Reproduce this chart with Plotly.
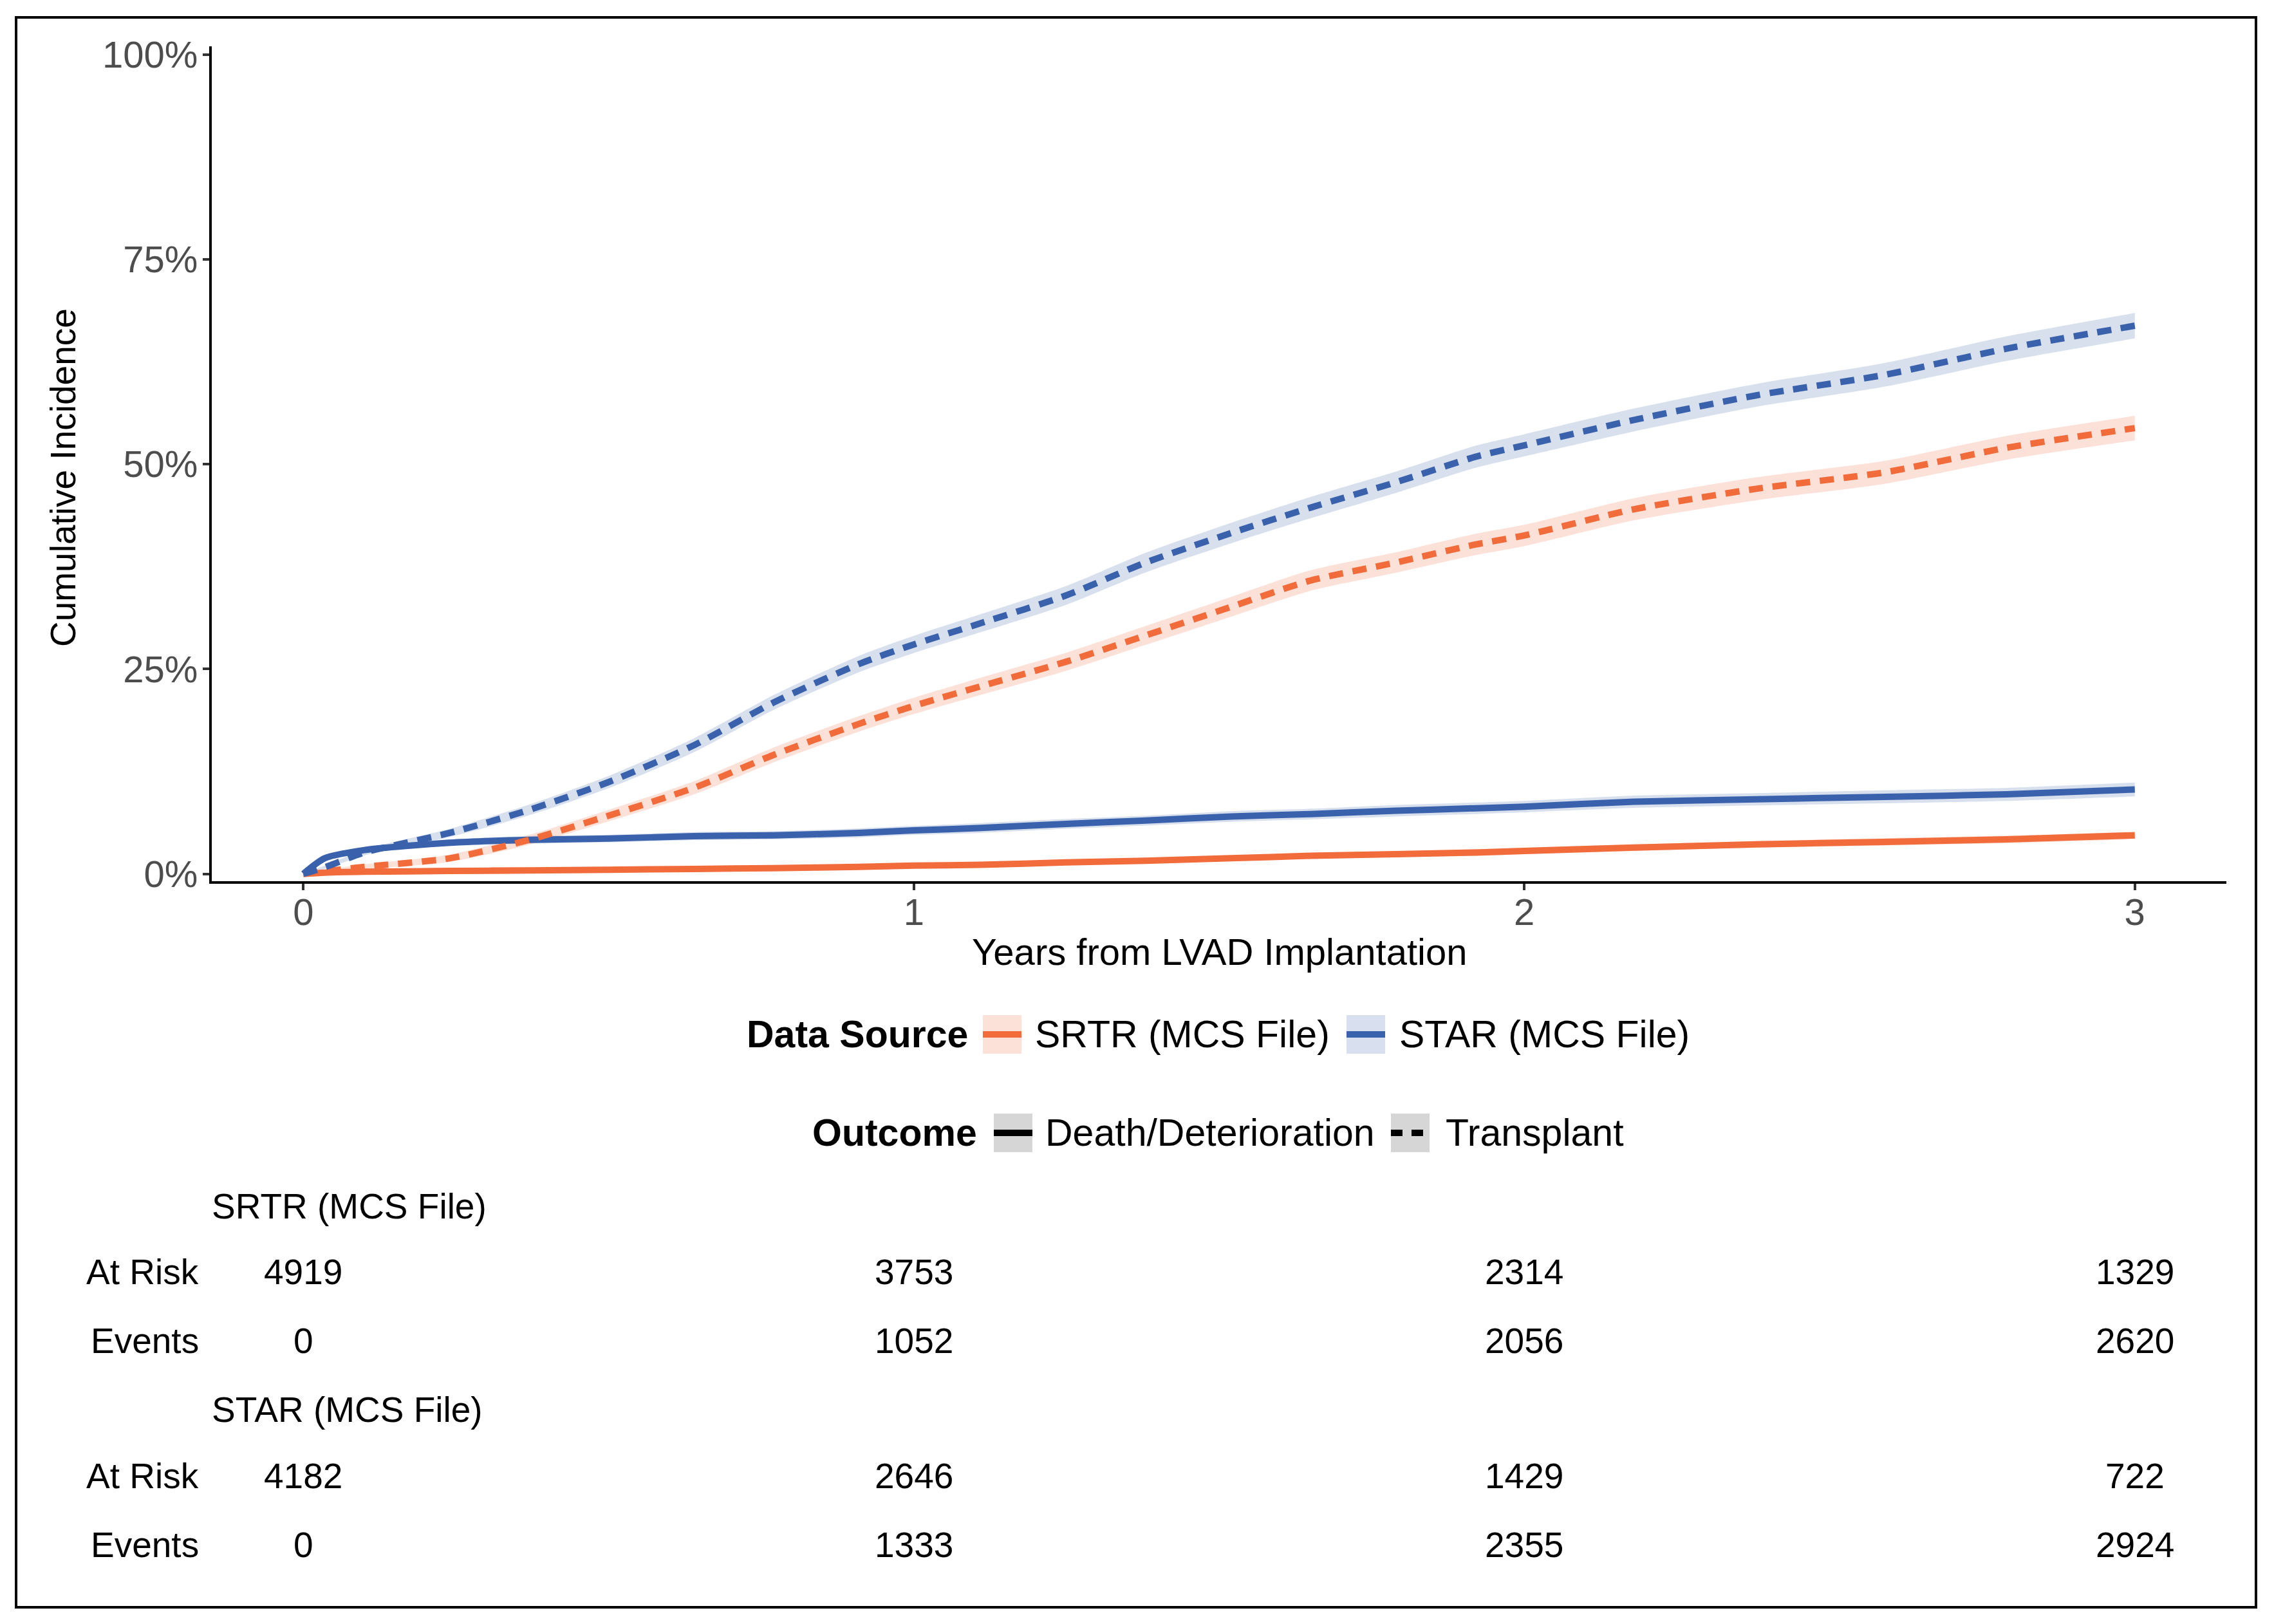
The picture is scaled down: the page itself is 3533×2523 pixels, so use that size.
import plotly.graph_objects as go

# ---------------- data ----------------
years = [0, 0.035, 0.10, 0.24, 0.37, 0.50, 0.64, 0.77, 0.91, 1.00, 1.11, 1.25,
         1.38, 1.52, 1.65, 1.79, 1.92, 2.00, 2.18, 2.38, 2.59, 2.79, 3.00]

star_transplant = [0, 0.8, 2.6, 5.0, 7.8, 11.2, 15.7, 20.9, 25.6, 28.0, 30.6, 34.0,
                   38.0, 41.6, 44.7, 47.8, 50.9, 52.3, 55.4, 58.4, 60.9, 64.1, 66.9]
srtr_transplant = [0, 0.3, 0.86, 1.9, 4.15, 7.1, 10.5, 14.5, 18.3, 20.5, 22.9, 25.9,
                   29.1, 32.6, 35.8, 38.0, 40.2, 41.3, 44.5, 47.0, 49.0, 52.0, 54.4]
star_death = [0, 1.9, 2.9, 3.8, 4.15, 4.3, 4.6, 4.7, 5.0, 5.3, 5.6, 6.1,
              6.5, 7.0, 7.3, 7.7, 8.0, 8.2, 8.8, 9.1, 9.4, 9.7, 10.3]
srtr_death = [0, 0.15, 0.25, 0.35, 0.42, 0.5, 0.6, 0.7, 0.85, 1.0, 1.1, 1.4,
              1.6, 1.9, 2.2, 2.4, 2.6, 2.8, 3.2, 3.6, 3.9, 4.2, 4.7]

# half-widths of the confidence bands (percentage points)
star_transplant_ci = [0, 0.2, 0.35, 0.5, 0.65, 0.75, 0.85, 0.9, 1.0, 1.05, 1.1, 1.15,
                      1.2, 1.25, 1.3, 1.3, 1.35, 1.35, 1.4, 1.4, 1.45, 1.5, 1.55]
srtr_transplant_ci = [0, 0.15, 0.3, 0.45, 0.6, 0.7, 0.8, 0.9, 0.95, 1.0, 1.05, 1.1,
                      1.15, 1.2, 1.25, 1.25, 1.3, 1.3, 1.35, 1.4, 1.4, 1.45, 1.5]
star_death_ci = [0, 0.3, 0.35, 0.4, 0.45, 0.45, 0.5, 0.5, 0.55, 0.55, 0.6, 0.6,
                 0.6, 0.65, 0.65, 0.7, 0.7, 0.7, 0.75, 0.75, 0.8, 0.8, 0.85]
srtr_death_ci = [0, 0.1, 0.15, 0.15, 0.2, 0.2, 0.2, 0.25, 0.25, 0.25, 0.3, 0.3,
                 0.3, 0.35, 0.35, 0.35, 0.4, 0.4, 0.4, 0.4, 0.45, 0.45, 0.45]

year_ticks = [0, 1, 2, 3]
pct_ticks = [0, 25, 50, 75, 100]
pct_labels = ["0%", "25%", "50%", "75%", "100%"]

sources = ["SRTR (MCS File)", "STAR (MCS File)"]
outcomes = ["Death/Deterioration", "Transplant"]

srtr_at_risk = [4919, 3753, 2314, 1329]
srtr_events = [0, 1052, 2056, 2620]
star_at_risk = [4182, 2646, 1429, 722]
star_events = [0, 1333, 2355, 2924]

# ---------------- styling ----------------
FONT = "Liberation Sans, Arial, Helvetica, sans-serif"
ORANGE = "#F26B3A"
BLUE = "#3A62AC"
ORANGE_BAND = "rgba(242,107,58,0.2)"
BLUE_BAND = "rgba(58,98,172,0.2)"
ORANGE_KEY = "#FCE1D8"
BLUE_KEY = "#D8E0EF"
GREY_KEY = "#D6D6D6"
DASH = "22px,15px"
LW = 10

W, H = 3533, 2523
L, R, T, B = 329, 3459, 72, 1369  # plot area in pixels


def xp(X):
    return (X - L) / (R - L)


def yp(Y):
    return (B - Y) / (B - T)


fig = go.Figure()

series = [
    (srtr_death, srtr_death_ci, ORANGE, ORANGE_BAND, "solid"),
    (star_death, star_death_ci, BLUE, BLUE_BAND, "solid"),
    (srtr_transplant, srtr_transplant_ci, ORANGE, ORANGE_BAND, DASH),
    (star_transplant, star_transplant_ci, BLUE, BLUE_BAND, DASH),
]

for vals, ci, col, band, dash in series:
    lower = [max(v - c, 0) for v, c in zip(vals, ci)]
    upper = [v + c for v, c in zip(vals, ci)]
    fig.add_trace(go.Scatter(x=years, y=lower, mode="lines", line=dict(width=0, shape="spline", smoothing=0.7),
                             showlegend=False, hoverinfo="skip"))
    fig.add_trace(go.Scatter(x=years, y=upper, mode="lines", line=dict(width=0, shape="spline", smoothing=0.7),
                             fill="tonexty", fillcolor=band, showlegend=False, hoverinfo="skip"))

for vals, ci, col, band, dash in series:
    fig.add_trace(go.Scatter(x=years, y=vals, mode="lines",
                             line=dict(color=col, width=LW, dash=dash, shape="spline", smoothing=0.7),
                             showlegend=False))

axis_common = dict(showline=True, linecolor="black", linewidth=4, ticks="outside",
                   ticklen=10, tickwidth=4, tickcolor="#333333", showgrid=False,
                   zeroline=False, tickfont=dict(family=FONT, size=58, color="#4D4D4D"))

fig.update_xaxes(range=[-0.15, 3.15], tickvals=year_ticks, ticktext=[str(v) for v in year_ticks],
                 ticklabelstandoff=-16, **axis_common)
fig.update_yaxes(range=[-0.9, 101.0], tickvals=pct_ticks, ticktext=pct_labels,
                 ticklabelstandoff=-4, **axis_common)

ann = []
shapes = []

# axis titles
ann.append(dict(text="Years from LVAD Implantation", xref="paper", yref="paper",
                x=0.5, y=yp(1478), xanchor="center", yanchor="middle", showarrow=False,
                font=dict(family=FONT, size=58, color="black")))
ann.append(dict(text="Cumulative Incidence", xref="paper", yref="paper",
                x=xp(98), y=yp(742), xanchor="center", yanchor="middle", showarrow=False,
                textangle=-90, font=dict(family=FONT, size=55, color="black")))

# legends
LEG_FONT = dict(family=FONT, size=59, color="black")


def key(x0, yc, fill, color, dash):
    shapes.append(dict(type="rect", xref="paper", yref="paper",
                       x0=xp(x0), x1=xp(x0 + 60), y0=yp(yc + 30), y1=yp(yc - 30),
                       fillcolor=fill, line=dict(width=0)))
    shapes.append(dict(type="line", xref="paper", yref="paper",
                       x0=xp(x0), x1=xp(x0 + 60), y0=yp(yc), y1=yp(yc),
                       line=dict(color=color, width=LW, dash=dash)))


def label(text, x, yc, anchor="left", font=LEG_FONT):
    ann.append(dict(text=text, xref="paper", yref="paper", x=xp(x), y=yp(yc),
                    xanchor=anchor, yanchor="middle", showarrow=False, font=font))


row1, row2 = 1607, 1760
label("<b>Data Source</b>", 1158, row1)
key(1527, row1, ORANGE_KEY, ORANGE, "solid")
label(sources[0], 1606, row1)
key(2092, row1, BLUE_KEY, BLUE, "solid")
label(sources[1], 2172, row1)

label("<b>Outcome</b>", 1260, row2)
key(1544, row2, GREY_KEY, "black", "solid")
label(outcomes[0], 1622, row2)
key(2161, row2, GREY_KEY, "black", "18px,14px")
label(outcomes[1], 2244, row2)

# risk table
TAB_FONT = dict(family=FONT, size=55, color="black")
table = [
    (sources[0], 1874, [("At Risk", 1976, srtr_at_risk), ("Events", 2083, srtr_events)]),
    (sources[1], 2190, [("At Risk", 2293, star_at_risk), ("Events", 2400, star_events)]),
]
for name, ytitle, rows in table:
    label(name, 327, ytitle, "left", TAB_FONT)
    for rname, yrow, values in rows:
        label(rname, 311, yrow, "right", TAB_FONT)
        for yr, v in zip(year_ticks, values):
            ann.append(dict(text=str(v), xref="x", yref="paper", x=yr, y=yp(yrow),
                            xanchor="center", yanchor="middle", showarrow=False, font=TAB_FONT))

# outer frame
shapes.append(dict(type="rect", xref="paper", yref="paper", x0=xp(25), x1=xp(3505),
                   y0=yp(2497), y1=yp(27), line=dict(color="black", width=4),
                   fillcolor="rgba(0,0,0,0)"))

fig.update_layout(width=W, height=H, margin=dict(l=L, r=W - R, t=T, b=H - B),
                  paper_bgcolor="white", plot_bgcolor="white", showlegend=False,
                  annotations=ann, shapes=shapes, font=dict(family=FONT))

fig.write_html("out.html")
